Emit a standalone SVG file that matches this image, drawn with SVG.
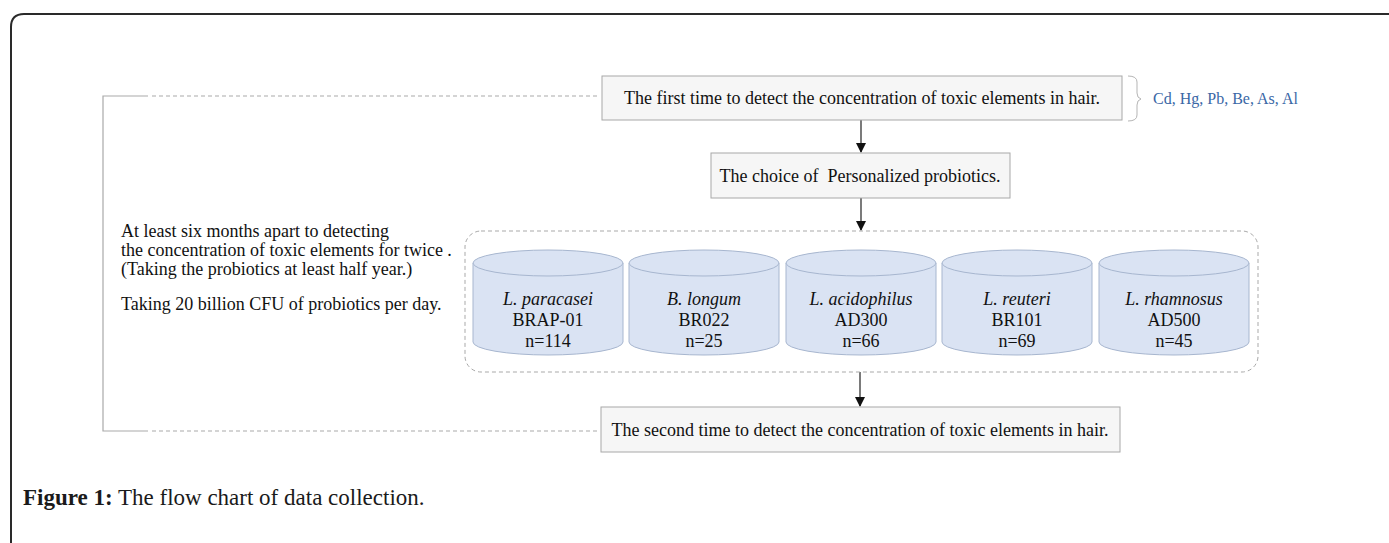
<svg xmlns="http://www.w3.org/2000/svg" width="1389" height="543" viewBox="0 0 1389 543">
<defs>
<style>
.t{font-family:"Liberation Serif","Times New Roman",serif;fill:#111;font-size:18px}
.c{font-family:"Liberation Serif","Times New Roman",serif;fill:#111;font-size:18px;text-anchor:middle}
.box{fill:#f6f6f6;stroke:#a8a8a8;stroke-width:1}
.cyl{fill:#dae3f3;stroke:#a7b6cf;stroke-width:1}
.dash{fill:none;stroke:#a9a9a9;stroke-width:1;stroke-dasharray:4 3}
.solid{fill:none;stroke:#a9a9a9;stroke-width:1.2}
.arr{stroke:#222;stroke-width:1.2;fill:none;marker-end:url(#ah)}
</style>
<marker id="ah" viewBox="0 0 10 10" refX="9" refY="5" markerWidth="10" markerHeight="10" markerUnits="userSpaceOnUse" orient="auto">
<path d="M0,0 L10,5 L0,10 z" fill="#111"/>
</marker>
</defs>
<rect width="1389" height="543" fill="#fff"/>
<path d="M11,543 V27 Q11,14 24,14 H1389" fill="none" stroke="#2a2a2a" stroke-width="2"/>

<g id="connectors">
<path class="arr" d="M861,120 V152"/>
<path class="arr" d="M861,198 V230"/>
<path class="arr" d="M860,372 V406"/>
<path class="solid" d="M148,96 H103 V431 H148"/>
<path class="dash" d="M152,96 H598"/>
<path class="dash" d="M152,431 H597"/>
</g>

<g id="first">
<rect class="box" x="602" y="76" width="520" height="44"/>
<text class="t" x="862" y="104" text-anchor="middle">The first time to detect the concentration of toxic elements in hair.</text>
</g>
<g id="elements">
<path d="M1128,76 Q1137,76 1137,82 V93 Q1137,98 1141,99 Q1137,100 1137,105 V115 Q1137,121 1128,121" fill="none" stroke="#b5b5b5" stroke-width="1"/>
<text x="1153" y="104" style="font-family:'Liberation Serif','Times New Roman',serif;font-size:16px;fill:#3a67a6">Cd, Hg, Pb, Be, As, Al</text>
</g>
<g id="choice">
<rect class="box" x="711" y="153" width="299" height="45"/>
<text class="t" x="860" y="182" text-anchor="middle" xml:space="preserve">The choice of  Personalized probiotics.</text>
</g>
<g id="note">
<text class="t" x="121" y="237">At least six months apart to detecting</text>
<text class="t" x="121" y="256">the concentration of toxic elements for twice .</text>
<text class="t" x="121" y="275">(Taking the probiotics at least half year.)</text>
<text class="t" x="121" y="310">Taking 20 billion CFU of probiotics per day.</text>
</g>
<g id="probiotics">
<rect class="dash" x="465" y="231" width="793" height="141" rx="16"/>
</g>
<g id="cyl1">
<path class="cyl" d="M473,263 a75,13 0 0 1 150,0 v79 a75,13 0 0 1 -150,0 z"/>
<path class="cyl" d="M473,263 a75,13 0 0 0 150,0" fill="none"/>
<text class="c" x="548" y="305" font-style="italic">L. paracasei</text>
<text class="c" x="548" y="326">BRAP-01</text>
<text class="c" x="548" y="347">n=114</text>
</g>
<g id="cyl2">
<path class="cyl" d="M629,263 a75,13 0 0 1 150,0 v79 a75,13 0 0 1 -150,0 z"/>
<path class="cyl" d="M629,263 a75,13 0 0 0 150,0" fill="none"/>
<text class="c" x="704" y="305" font-style="italic">B. longum</text>
<text class="c" x="704" y="326">BR022</text>
<text class="c" x="704" y="347">n=25</text>
</g>
<g id="cyl3">
<path class="cyl" d="M786,263 a75,13 0 0 1 150,0 v79 a75,13 0 0 1 -150,0 z"/>
<path class="cyl" d="M786,263 a75,13 0 0 0 150,0" fill="none"/>
<text class="c" x="861" y="305" font-style="italic">L. acidophilus</text>
<text class="c" x="861" y="326">AD300</text>
<text class="c" x="861" y="347">n=66</text>
</g>
<g id="cyl4">
<path class="cyl" d="M942,263 a75,13 0 0 1 150,0 v79 a75,13 0 0 1 -150,0 z"/>
<path class="cyl" d="M942,263 a75,13 0 0 0 150,0" fill="none"/>
<text class="c" x="1017" y="305" font-style="italic">L. reuteri</text>
<text class="c" x="1017" y="326">BR101</text>
<text class="c" x="1017" y="347">n=69</text>
</g>
<g id="cyl5">
<path class="cyl" d="M1099,263 a75,13 0 0 1 150,0 v79 a75,13 0 0 1 -150,0 z"/>
<path class="cyl" d="M1099,263 a75,13 0 0 0 150,0" fill="none"/>
<text class="c" x="1174" y="305" font-style="italic">L. rhamnosus</text>
<text class="c" x="1174" y="326">AD500</text>
<text class="c" x="1174" y="347">n=45</text>
</g>
<g id="second">
<rect class="box" x="601" y="407" width="519" height="45"/>
<text class="t" x="860" y="436" text-anchor="middle">The second time to detect the concentration of toxic elements in hair.</text>
</g>
<g id="caption">
<text x="23" y="505" style="font-family:'Liberation Serif','Times New Roman',serif;font-size:23px;fill:#1a1a1a"><tspan font-weight="bold">Figure 1:</tspan> The flow chart of data collection.</text>
</g>
</svg>
